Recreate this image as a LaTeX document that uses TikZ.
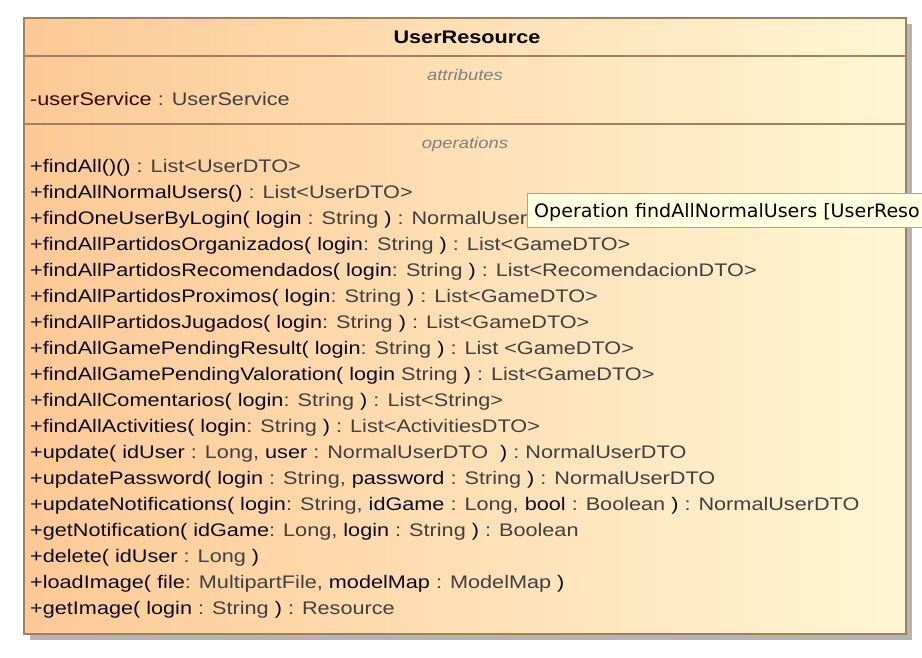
\documentclass[tikz,border=0pt]{standalone}
\usepackage{fontspec}
\setmainfont{Liberation Sans}[FakeStretch=1.19]
\newfontfamily\tipfont{DejaVu Sans}[FakeStretch=1.03]
\definecolor{nm}{RGB}{10,10,40}
\definecolor{ty}{RGB}{64,64,64}
\definecolor{attrc}{RGB}{64,0,0}
\definecolor{lbl}{RGB}{128,128,128}
\definecolor{bord}{RGB}{160,128,96}
\definecolor{shd}{RGB}{180,180,180}
\definecolor{gl}{RGB}{253,201,150}
\definecolor{gr}{RGB}{255,246,212}
\definecolor{tipfill}{RGB}{255,255,225}
\definecolor{tipbord}{RGB}{165,165,145}
\newcommand\nmx[1]{\textcolor{nm}{#1}}
\newcommand\tyx[1]{\textcolor{ty}{#1}}
\begin{document}
\begin{tikzpicture}[x=1pt,y=-1pt,
  txt/.style={anchor=base west,inner sep=0pt,font=\fontsize{18.2}{20}\selectfont},
  lab/.style={anchor=base,inner sep=0pt,text=lbl,font=\fontsize{15.5}{18}\selectfont\itshape},
  sep/.style={draw=bord,line width=1.4pt}]
\useasboundingbox (0,0) rectangle (922,658);
% shadow
\fill[shd] (30,24) rectangle (912,640);
% body
\shade[left color=gl,right color=gr] (24,18) rectangle (906,634);
\draw[sep] (24,18) rectangle (906,634);
\draw[sep] (24,56) -- (906,56);
\draw[sep] (24,124) -- (906,124);
% title
\node[anchor=base,inner sep=0pt,font=\fontsize{18.2}{20}\selectfont\bfseries] (title) at (467,44) {UserResource};
\node[lab] (attrlab) at (465,81) {attributes};
\node[txt] (a1) at (30,106) {\textcolor{attrc}{-userService} \tyx{: UserService}};
\node[lab] (oplab) at (465,149) {operations};
\node[txt] (o1) at (30,172.3) {\nmx{+findAll()()} \tyx{: List<UserDTO>}};
\node[txt] (o2) at (30,198.3) {\nmx{+findAllNormalUsers()} \tyx{: List<UserDTO>}};
\node[txt] (o3) at (30,224.3) {\nmx{+findOneUserByLogin( login} \tyx{: String} \nmx{)} \tyx{: NormalUserDTO}};
\node[txt] (o4) at (30,250.3) {\nmx{+findAllPartidosOrganizados( login}\tyx{: String} \nmx{)} \tyx{: List<GameDTO>}};
\node[txt] (o5) at (30,276.3) {\nmx{+findAllPartidosRecomendados( login}\tyx{: String} \nmx{)} \tyx{: List<RecomendacionDTO>}};
\node[txt] (o6) at (30,302.3) {\nmx{+findAllPartidosProximos( login}\tyx{: String} \nmx{)} \tyx{: List<GameDTO>}};
\node[txt] (o7) at (30,328.3) {\nmx{+findAllPartidosJugados( login}\tyx{: String} \nmx{)} \tyx{: List<GameDTO>}};
\node[txt] (o8) at (30,354.3) {\nmx{+findAllGamePendingResult( login}\tyx{: String} \nmx{)} \tyx{: List <GameDTO>}};
\node[txt] (o9) at (30,380.3) {\nmx{+findAllGamePendingValoration( login} \tyx{String} \nmx{)} \tyx{: List<GameDTO>}};
\node[txt] (o10) at (30,406.3) {\nmx{+findAllComentarios( login}\tyx{: String} \nmx{)} \tyx{: List<String>}};
\node[txt] (o11) at (30,432.3) {\nmx{+findAllActivities( login}\tyx{: String} \nmx{)} \tyx{: List<ActivitiesDTO>}};
\node[txt] (o12) at (30,458.3) {\nmx{+update( idUser} \tyx{: Long,} \nmx{user} \tyx{: NormalUserDTO}\ \ \nmx{)} \tyx{: NormalUserDTO}};
\node[txt] (o13) at (30,484.3) {\nmx{+updatePassword( login} \tyx{: String,} \nmx{password} \tyx{: String} \nmx{)} \tyx{: NormalUserDTO}};
\node[txt] (o14) at (30,510.3) {\nmx{+updateNotifications( login}\tyx{: String,} \nmx{idGame} \tyx{: Long,} \nmx{bool} \tyx{: Boolean} \nmx{)} \tyx{: NormalUserDTO}};
\node[txt] (o15) at (30,536.3) {\nmx{+getNotification( idGame}\tyx{: Long,} \nmx{login} \tyx{: String} \nmx{)} \tyx{: Boolean}};
\node[txt] (o16) at (30,562.3) {\nmx{+delete( idUser} \tyx{: Long} \nmx{)}};
\node[txt] (o17) at (30,588.3) {\nmx{+loadImage( file}\tyx{: MultipartFile,} \nmx{modelMap} \tyx{: ModelMap} \nmx{)}};
\node[txt] (o18) at (30,614.3) {\nmx{+getImage( login} \tyx{: String} \nmx{)} \tyx{: Resource}};
% tooltip
\begin{scope}
\clip (0,0) rectangle (922,658);
\draw[fill=tipfill,draw=tipbord,line width=1pt] (527.5,193.5) rectangle (940,228);
\node[anchor=base west,inner sep=0pt,font=\tipfont\fontsize{18.5}{20}\selectfont] (tip) at (534,218) {Operation findAllNormalUsers [UserReso};
\end{scope}
\end{tikzpicture}
\end{document}
